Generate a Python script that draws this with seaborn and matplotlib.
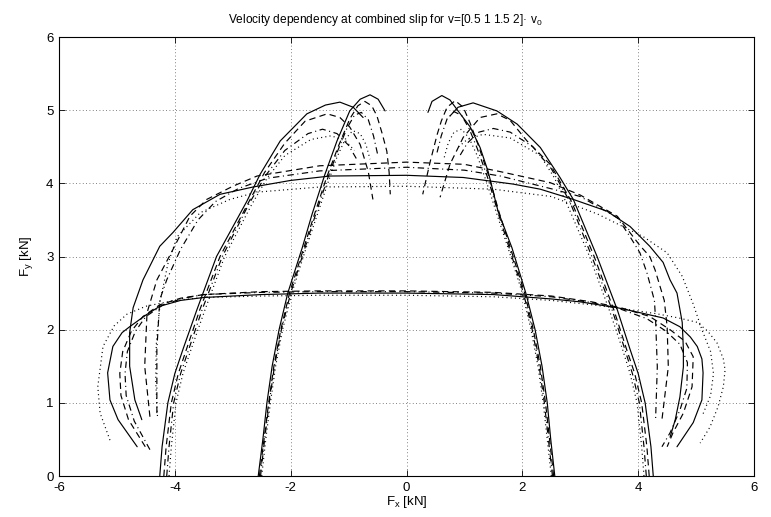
import matplotlib
matplotlib.use("Agg")
import matplotlib.pyplot as plt
from matplotlib import font_manager as fm
import seaborn as sns
import pandas as pd

# ---------------- data ----------------
# Family A: small slip angle, longitudinal slip swept (lower arc)
a_solid_x = [-4.65, -4.98, -5.12, -5.16, -5.07, -4.91, -4.78, -4.50, -4.26, -3.90, -3.50, -2.50, -1.50, 0.00,
             1.50, 2.50, 3.00, 3.64, 4.10, 4.43, 4.72, 4.90, 5.02, 5.10, 5.12, 5.10, 4.95, 4.67]
a_solid_y = [0.40, 0.77, 1.04, 1.41, 1.77, 1.96, 2.04, 2.20, 2.32, 2.40, 2.44, 2.48, 2.50, 2.50,
             2.48, 2.42, 2.38, 2.30, 2.22, 2.16, 2.04, 1.90, 1.77, 1.60, 1.41, 1.04, 0.73, 0.40]
a_dash_x = [-4.51, -4.80, -4.93, -4.95, -4.90, -4.75, -4.55, -4.26, -3.90, -3.50, -2.50, -1.50, 0.00, 1.50,
            2.50, 3.20, 3.70, 4.20, 4.55, 4.81, 4.95, 4.93, 4.78, 4.60, 4.50]
a_dash_y = [0.40, 0.77, 1.10, 1.40, 1.70, 1.98, 2.18, 2.34, 2.43, 2.48, 2.52, 2.53, 2.53, 2.51,
            2.46, 2.38, 2.30, 2.18, 2.00, 1.84, 1.63, 1.22, 0.86, 0.59, 0.40]
a_dashdot_x = [-4.43, -4.70, -4.84, -4.86, -4.82, -4.68, -4.50, -4.20, -3.85, -3.50, -2.50, -1.50, 0.00, 1.50,
               2.50, 3.20, 3.70, 4.15, 4.48, 4.72, 4.85, 4.84, 4.72, 4.55, 4.41]
a_dashdot_y = [0.36, 0.75, 1.10, 1.40, 1.70, 1.98, 2.18, 2.34, 2.43, 2.48, 2.51, 2.52, 2.52, 2.50,
               2.45, 2.37, 2.28, 2.15, 1.98, 1.80, 1.55, 1.20, 0.90, 0.59, 0.40]
a_dot_x = [-5.12, -5.29, -5.33, -5.24, -5.05, -4.83, -4.50, -4.00, -3.50, -2.50, -1.50, 0.00, 1.50, 2.50,
           3.20, 3.80, 4.30, 4.70, 5.02, 5.20, 5.36, 5.47, 5.50, 5.47, 5.38, 5.24, 5.07]
a_dot_y = [0.49, 0.86, 1.22, 1.77, 2.05, 2.21, 2.32, 2.40, 2.44, 2.46, 2.47, 2.47, 2.45, 2.40,
           2.34, 2.28, 2.22, 2.16, 2.10, 1.98, 1.82, 1.60, 1.45, 1.22, 0.95, 0.67, 0.45]

# Family B: larger slip angle (upper arc)
b_solid_x = [-4.57, -4.69, -4.78, -4.78, -4.72, -4.55, -4.26, -4.03, -3.69, -3.22, -2.65, -2.00, -1.32, 0.00,
             0.98, 1.84, 2.31, 2.88, 3.46, 3.86, 4.20, 4.43, 4.55, 4.67, 4.76, 4.78, 4.78, 4.72, 4.64, 4.55]
b_solid_y = [0.77, 1.04, 1.50, 1.96, 2.30, 2.68, 3.14, 3.33, 3.64, 3.85, 3.95, 4.04, 4.10, 4.11,
             4.08, 3.99, 3.92, 3.78, 3.62, 3.41, 3.14, 2.92, 2.68, 2.50, 2.10, 1.73, 1.49, 1.08, 0.77, 0.53]
b_dash_x = [-4.43, -4.52, -4.48, -4.31, -4.03, -3.74, -3.45, -3.00, -2.58, -1.50, 0.00, 1.00, 1.62, 2.48,
            3.00, 3.64, 4.03, 4.20, 4.29, 4.45, 4.50, 4.52, 4.41]
b_dash_y = [0.81, 1.50, 2.23, 2.68, 3.10, 3.55, 3.78, 3.96, 4.10, 4.24, 4.29, 4.26, 4.16, 4.01,
            3.84, 3.55, 3.15, 3.00, 2.82, 2.40, 2.04, 1.49, 0.77]
b_dashdot_x = [-4.31, -4.31, -4.26, -4.14, -3.90, -3.60, -3.30, -2.90, -2.40, -1.50, 0.00, 1.00, 1.62, 2.53,
               3.00, 3.64, 3.86, 4.03, 4.15, 4.28, 4.30, 4.33, 4.30]
b_dashdot_y = [0.86, 1.73, 2.41, 2.68, 3.10, 3.50, 3.75, 3.93, 4.07, 4.17, 4.22, 4.18, 4.10, 3.92,
               3.82, 3.53, 3.27, 3.05, 2.78, 2.40, 2.14, 1.49, 0.77]
b_dot_x = [-4.30, -4.33, -4.32, -4.25, -4.12, -3.96, -3.56, -3.05, -2.58, -1.50, 0.00, 1.50, 2.50, 3.30,
           4.09, 4.50, 4.76, 4.95, 5.10, 5.25, 5.30, 5.25, 5.12]
b_dot_y = [0.82, 1.30, 1.80, 2.40, 2.90, 3.27, 3.60, 3.78, 3.88, 3.95, 3.96, 3.92, 3.82, 3.58,
           3.27, 3.05, 2.73, 2.35, 2.00, 1.70, 1.40, 1.10, 0.85]

# Family C: small longitudinal slip, slip angle swept (inner vertical curves)
c_solid_l_x = [-2.56, -2.48, -2.41, -2.32, -2.20, -2.05, -1.80, -1.63, -1.41, -1.20, -0.98, -0.80, -0.63, -0.49, -0.37]
c_solid_l_y = [0.00, 0.50, 1.00, 1.50, 2.00, 2.50, 3.12, 3.58, 4.12, 4.58, 4.99, 5.15, 5.21, 5.15, 4.99]
c_solid_r_x = [2.56, 2.49, 2.43, 2.34, 2.22, 2.06, 1.82, 1.58, 1.41, 1.27, 1.10, 0.89, 0.75, 0.61, 0.44, 0.37]
c_solid_r_y = [0.00, 0.50, 1.00, 1.50, 2.00, 2.50, 3.12, 3.62, 4.16, 4.49, 4.77, 4.99, 5.14, 5.20, 5.12, 4.97]
c_dash_l_x = [-2.54, -2.46, -2.38, -2.29, -2.17, -2.02, -1.78, -1.60, -1.38, -1.18, -0.98, -0.84, -0.72, -0.60,
              -0.51, -0.42, -0.34, -0.30, -0.28]
c_dash_l_y = [0.00, 0.50, 1.00, 1.50, 2.00, 2.50, 3.10, 3.55, 4.08, 4.50, 4.88, 5.06, 5.12, 5.06,
              4.92, 4.68, 4.44, 4.15, 3.85]
c_dash_r_x = [2.54, 2.47, 2.40, 2.31, 2.19, 2.04, 1.80, 1.60, 1.42, 1.24, 1.10, 0.98, 0.84, 0.70, 0.60, 0.53, 0.41, 0.28]
c_dash_r_y = [0.00, 0.50, 1.00, 1.50, 2.00, 2.50, 3.10, 3.60, 4.10, 4.52, 4.82, 5.04, 5.13, 5.04, 4.85, 4.67, 4.30, 3.85]
c_dashdot_l_x = [-2.52, -2.45, -2.37, -2.28, -2.16, -2.00, -1.76, -1.58, -1.37, -1.18, -1.03, -0.90, -0.78, -0.66, -0.57, -0.50]
c_dashdot_l_y = [0.00, 0.50, 1.00, 1.50, 2.00, 2.50, 3.10, 3.55, 4.05, 4.46, 4.75, 4.93, 4.97, 4.87, 4.65, 4.40]
c_dashdot_r_x = [2.52, 2.45, 2.38, 2.29, 2.17, 2.02, 1.78, 1.58, 1.40, 1.22, 1.08, 0.95, 0.82, 0.70, 0.60, 0.52]
c_dashdot_r_y = [0.00, 0.50, 1.00, 1.50, 2.00, 2.50, 3.10, 3.60, 4.08, 4.48, 4.75, 4.93, 4.98, 4.88, 4.65, 4.40]
c_dot_l_x = [-2.50, -2.43, -2.35, -2.26, -2.14, -1.98, -1.74, -1.55, -1.36, -1.20, -1.06, -0.93, -0.80, -0.70, -0.63]
c_dot_l_y = [0.00, 0.50, 1.00, 1.50, 2.00, 2.50, 3.10, 3.55, 4.00, 4.36, 4.60, 4.72, 4.68, 4.53, 4.33]
c_dot_r_x = [2.50, 2.43, 2.36, 2.27, 2.15, 2.00, 1.76, 1.56, 1.38, 1.22, 1.08, 0.95, 0.82, 0.72, 0.65]
c_dot_r_y = [0.00, 0.50, 1.00, 1.50, 2.00, 2.50, 3.10, 3.58, 4.02, 4.38, 4.62, 4.74, 4.70, 4.55, 4.35]

# Family D: larger longitudinal slip, slip angle swept (outer vertical curves)
d_solid_l_x = [-4.26, -4.22, -4.12, -4.00, -3.86, -3.62, -3.28, -2.76, -2.53, -2.18, -1.72, -1.40, -1.15, -0.92, -0.75]
d_solid_l_y = [0.00, 0.40, 1.00, 1.40, 1.73, 2.27, 3.00, 3.75, 4.12, 4.58, 4.95, 5.07, 5.11, 5.04, 4.90]
d_solid_r_x = [4.26, 4.22, 4.12, 4.00, 3.86, 3.64, 3.29, 2.88, 2.65, 2.31, 1.91, 1.56, 1.15, 0.89, 0.75]
d_solid_r_y = [0.00, 0.40, 1.00, 1.40, 1.73, 2.27, 3.00, 3.78, 4.08, 4.49, 4.81, 4.99, 5.10, 5.04, 4.92]
d_dash_l_x = [-4.19, -4.15, -4.06, -3.94, -3.80, -3.57, -3.22, -2.72, -2.45, -2.10, -1.75, -1.37, -1.15, -0.98, -0.80, -0.66, -0.58]
d_dash_l_y = [0.00, 0.40, 1.00, 1.40, 1.73, 2.27, 3.00, 3.75, 4.15, 4.55, 4.85, 4.95, 4.90, 4.77, 4.53, 4.16, 3.78]
d_dash_r_x = [4.19, 4.15, 4.06, 3.94, 3.80, 3.58, 3.24, 2.85, 2.48, 2.08, 1.79, 1.56, 1.27, 0.98, 0.75, 0.58]
d_dash_r_y = [0.00, 0.40, 1.00, 1.40, 1.73, 2.27, 3.00, 3.75, 4.26, 4.58, 4.86, 4.95, 4.90, 4.63, 4.26, 3.81]
d_dashdot_l_x = [-4.14, -4.10, -4.02, -3.90, -3.76, -3.53, -3.18, -2.72, -2.42, -2.10, -1.70, -1.45, -1.20, -1.00, -0.86]
d_dashdot_l_y = [0.00, 0.40, 1.00, 1.40, 1.73, 2.27, 3.00, 3.72, 4.12, 4.45, 4.68, 4.74, 4.68, 4.52, 4.33]
d_dashdot_r_x = [4.14, 4.10, 4.02, 3.90, 3.77, 3.55, 3.20, 2.82, 2.50, 2.18, 1.79, 1.50, 1.25, 1.05, 0.90]
d_dashdot_r_y = [0.00, 0.40, 1.00, 1.40, 1.73, 2.27, 3.00, 3.75, 4.20, 4.50, 4.70, 4.75, 4.70, 4.55, 4.35]
d_dot_l_x = [-4.10, -4.06, -3.98, -3.86, -3.72, -3.48, -3.14, -2.68, -2.40, -2.10, -1.65, -1.30, -1.05, -0.90]
d_dot_l_y = [0.00, 0.40, 1.00, 1.40, 1.73, 2.27, 3.00, 3.70, 4.08, 4.38, 4.60, 4.65, 4.58, 4.45]
d_dot_r_x = [4.10, 4.06, 3.98, 3.86, 3.73, 3.50, 3.16, 2.78, 2.55, 2.31, 1.79, 1.32, 1.05, 0.87]
d_dot_r_y = [0.00, 0.40, 1.00, 1.40, 1.73, 2.27, 3.00, 3.70, 4.08, 4.38, 4.62, 4.67, 4.60, 4.48]

speeds = ["0.5", "1", "1.5", "2"]
x_ticks = [-6, -4, -2, 0, 2, 4, 6]
y_ticks = [0, 1, 2, 3, 4, 5, 6]
title_text = "Velocity dependency at combined slip for v=[0.5 1 1.5 2]\u00b7 v$_0$"
xlabel_text = "F$_x$ [kN]"
ylabel_text = "F$_y$ [kN]"

# ---------------- assemble long table ----------------
curves = [
    ("A", speeds[0], a_solid_x, a_solid_y), ("A", speeds[1], a_dash_x, a_dash_y),
    ("A", speeds[2], a_dashdot_x, a_dashdot_y), ("A", speeds[3], a_dot_x, a_dot_y),
    ("B", speeds[0], b_solid_x, b_solid_y), ("B", speeds[1], b_dash_x, b_dash_y),
    ("B", speeds[2], b_dashdot_x, b_dashdot_y), ("B", speeds[3], b_dot_x, b_dot_y),
    ("CL", speeds[0], c_solid_l_x, c_solid_l_y), ("CR", speeds[0], c_solid_r_x, c_solid_r_y),
    ("CL", speeds[1], c_dash_l_x, c_dash_l_y), ("CR", speeds[1], c_dash_r_x, c_dash_r_y),
    ("CL", speeds[2], c_dashdot_l_x, c_dashdot_l_y), ("CR", speeds[2], c_dashdot_r_x, c_dashdot_r_y),
    ("CL", speeds[3], c_dot_l_x, c_dot_l_y), ("CR", speeds[3], c_dot_r_x, c_dot_r_y),
    ("DL", speeds[0], d_solid_l_x, d_solid_l_y), ("DR", speeds[0], d_solid_r_x, d_solid_r_y),
    ("DL", speeds[1], d_dash_l_x, d_dash_l_y), ("DR", speeds[1], d_dash_r_x, d_dash_r_y),
    ("DL", speeds[2], d_dashdot_l_x, d_dashdot_l_y), ("DR", speeds[2], d_dashdot_r_x, d_dashdot_r_y),
    ("DL", speeds[3], d_dot_l_x, d_dot_l_y), ("DR", speeds[3], d_dot_r_x, d_dot_r_y),
]
rows = []
for fam, sp, xs, ys in curves:
    cid = fam + "_" + sp
    for i, (xv, yv) in enumerate(zip(xs, ys)):
        rows.append({"Fx": xv, "Fy": yv, "curve": cid, "speed": sp, "order": i})
df = pd.DataFrame(rows)

# ---------------- style ----------------
sns.set_theme(style="white")
available = {f.name for f in fm.fontManager.ttflist}
if "Liberation Sans Narrow" in available:
    base_font, fs_tick, fs_title, fs_lab = "Liberation Sans Narrow", 10.5, 10, 10.5
else:
    base_font, fs_tick, fs_title, fs_lab = "Liberation Sans", 9.5, 8.6, 9.5
plt.rcParams["font.family"] = [base_font, "DejaVu Sans"]
plt.rcParams["mathtext.default"] = "regular"
plt.rcParams["axes.unicode_minus"] = False

fig = plt.figure(figsize=(7.71, 5.17), dpi=100)
ax = fig.add_axes([0.0765, 0.0793, 0.9015, 0.8491])

dash_map = {speeds[0]: "", speeds[1]: (5.4, 3.6), speeds[2]: (5.4, 3.0, 0.9, 3.0), speeds[3]: (0.9, 2.7)}
sns.lineplot(data=df, x="Fx", y="Fy", units="curve", style="speed", estimator=None, sort=False,
             dashes=dash_map, color="black", linewidth=0.85, legend=False, ax=ax)

ax.set_xlim(-6, 6)
ax.set_ylim(0, 6)
ax.set_xticks(x_ticks)
ax.set_yticks(y_ticks)
ax.set_xticklabels([str(v) for v in x_ticks], fontsize=fs_tick)
ax.set_yticklabels([str(v) for v in y_ticks], fontsize=fs_tick)
ax.grid(True, color="0.35", linewidth=0.6, dashes=(1, 3))
ax.set_axisbelow(True)
ax.tick_params(direction="in", length=4, width=0.6, top=True, right=True, bottom=True, left=True,
               colors="black", pad=4)
for sp in ax.spines.values():
    sp.set_color("black")
    sp.set_linewidth(0.8)
ax.set_title(title_text, fontsize=fs_title, pad=10, color="black", x=0.47)
ax.set_xlabel(xlabel_text, fontsize=fs_lab, labelpad=0, color="black")
ax.set_ylabel(ylabel_text, fontsize=fs_lab, labelpad=8, color="black")

fig.savefig("out.png", dpi=100)
